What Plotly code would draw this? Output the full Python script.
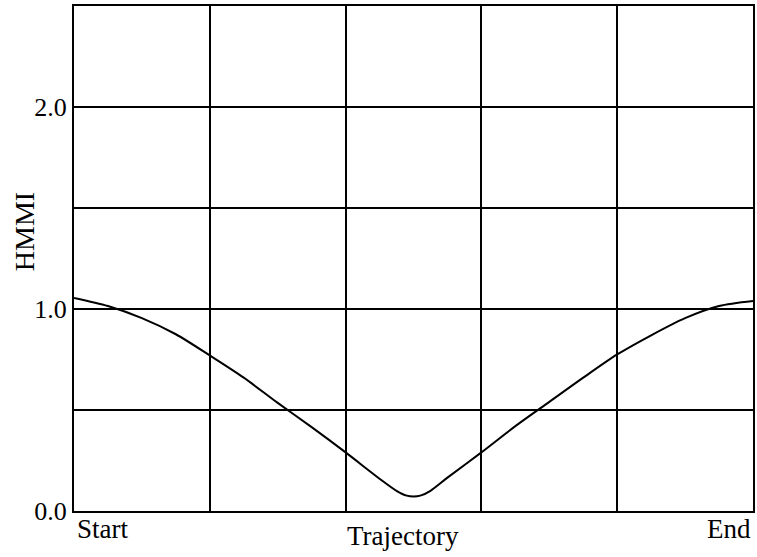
import plotly.graph_objects as go

# Position along the trajectory (0 = Start, 1 = End) and HMMI value
traj_pos = [0.0, 0.05, 0.1, 0.15, 0.2, 0.25, 0.3, 0.35, 0.4, 0.45,
            0.475, 0.49, 0.5, 0.51, 0.525, 0.55, 0.6, 0.65, 0.7, 0.75,
            0.8, 0.85, 0.9, 0.95, 1.0]
hmmi = [1.055, 1.015, 0.955, 0.875, 0.77, 0.66, 0.535, 0.415, 0.29, 0.16,
        0.10, 0.076, 0.072, 0.076, 0.10, 0.165, 0.29, 0.42, 0.54, 0.66,
        0.775, 0.87, 0.955, 1.015, 1.04]

y_tickvals = [0.0, 0.5, 1.0, 1.5, 2.0]
y_ticktext = ["0.0", "", "1.0", "", "2.0"]
x_gridvals = [0.0, 0.2, 0.4, 0.6, 0.8, 1.0]

FONT = "Liberation Serif"

fig = go.Figure()
fig.add_trace(go.Scatter(
    x=traj_pos, y=hmmi, mode="lines",
    line=dict(color="black", width=2, shape="spline", smoothing=0.8),
    showlegend=False, hoverinfo="skip",
))

fig.update_layout(
    width=757, height=557,
    margin=dict(l=74, r=2, t=6, b=46),
    paper_bgcolor="white", plot_bgcolor="white",
    font=dict(family=FONT, color="black", size=24),
    xaxis=dict(
        range=[0, 1], tickvals=x_gridvals, showticklabels=False, ticks="",
        showgrid=True, gridcolor="black", gridwidth=1.6,
        showline=True, linecolor="black", linewidth=2, mirror=True,
        zeroline=False, fixedrange=True,
    ),
    yaxis=dict(
        range=[0, 2.5], tickvals=y_tickvals, ticktext=y_ticktext, ticks="",
        tickfont=dict(family=FONT, size=26),
        showgrid=True, gridcolor="black", gridwidth=1.6,
        showline=True, linecolor="black", linewidth=2, mirror=True,
        zeroline=False, fixedrange=True,
    ),
    annotations=[
        dict(text="Start", x=0, y=0, xref="x", yref="y", xanchor="left", yanchor="top",
             xshift=1, yshift=-1, showarrow=False, font=dict(family=FONT, size=27)),
        dict(text="End", x=1, y=0, xref="x", yref="y", xanchor="right", yanchor="top",
             yshift=-1, showarrow=False, font=dict(family=FONT, size=27)),
        dict(text="Trajectory", x=0.484, y=0, xref="x", yref="y", xanchor="center",
             yanchor="top", yshift=-8, showarrow=False, font=dict(family=FONT, size=27)),
        dict(text="HMMI", x=0, y=1.38, xref="paper", yref="y", xanchor="center",
             yanchor="middle", xshift=-50, textangle=-90, showarrow=False,
             font=dict(family=FONT, size=28)),
    ],
)

fig.write_html("out.html")
